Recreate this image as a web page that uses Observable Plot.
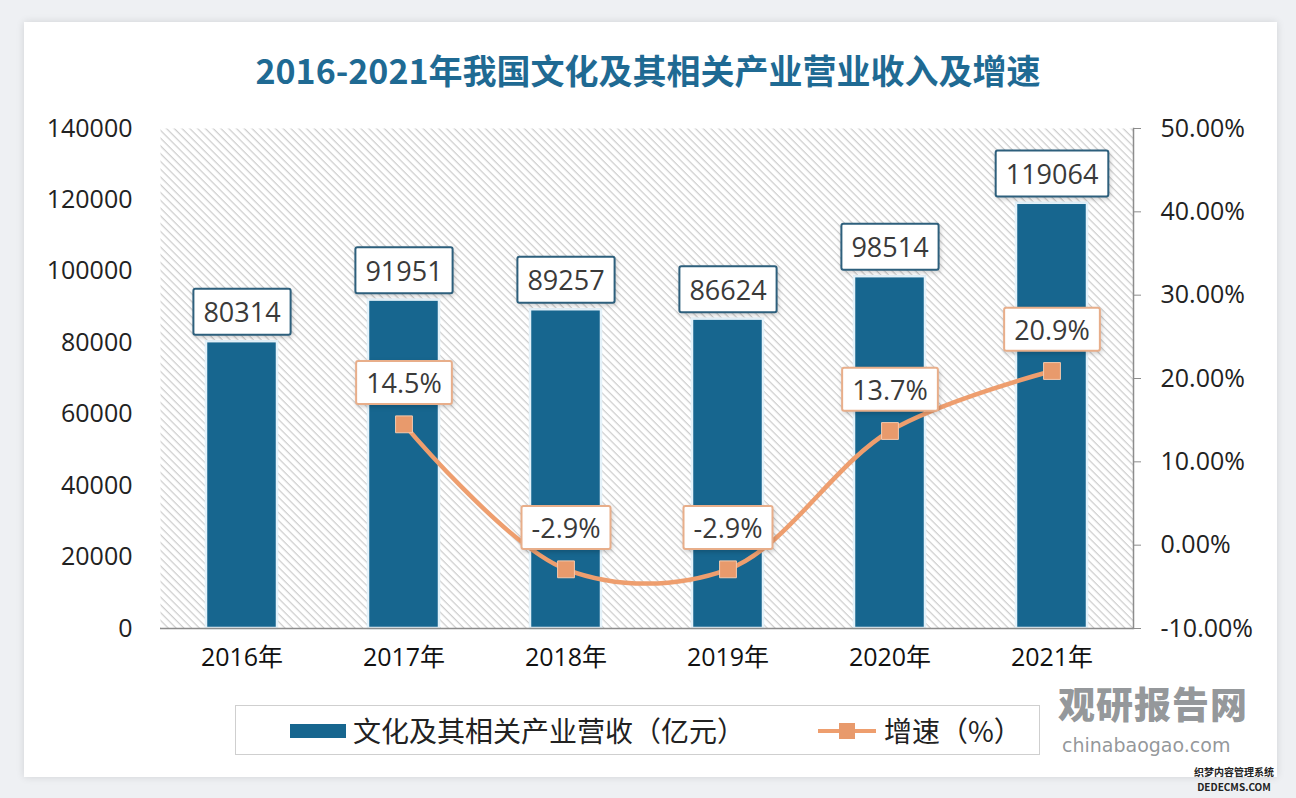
<!DOCTYPE html>
<html><head><meta charset="utf-8">
<script src="https://cdn.jsdelivr.net/npm/d3@7"></script>
<script src="https://cdn.jsdelivr.net/npm/@observablehq/plot@0.6"></script>
<style>
html,body{margin:0;padding:0;background:#eef0f3;width:1296px;height:798px;overflow:hidden;font-family:"Open Sans","Noto Sans CJK SC",sans-serif;}
#card{position:absolute;left:24px;top:22px;width:1253px;height:755px;background:#fff;box-shadow:0 0 8px rgba(0,0,0,0.12);}
#title{position:absolute;left:0;top:45px;width:1296px;text-align:center;font-family:"Noto Sans CJK SC",sans-serif;font-weight:700;font-size:34px;color:#1F6A93;}
#chart{position:absolute;left:0;top:0;}
#legend{position:absolute;left:235px;top:705px;width:805px;height:50px;border:1px solid #cfcfcf;background:#fff;box-sizing:border-box;}
.lg{position:absolute;top:6px;font-family:"Noto Sans CJK SC",sans-serif;font-size:28px;color:#222;line-height:36px;}
#wm1{position:absolute;left:1058px;top:682px;font-family:"Noto Sans CJK SC",sans-serif;font-weight:900;font-size:37px;line-height:42px;color:rgba(120,124,128,0.8);letter-spacing:1px;}
#wm2{position:absolute;left:1062px;top:734px;font-family:"DejaVu Sans",sans-serif;font-size:19px;line-height:22px;color:rgba(120,124,128,0.8);}
.wm3{position:absolute;left:1186px;width:96px;font-family:"Noto Sans CJK SC",sans-serif;font-weight:700;font-size:10px;line-height:12px;color:#222;text-align:center;}
</style></head>
<body>
<div id="card"></div>
<div id="title">2016-2021年我国文化及其相关产业营业收入及增速</div>
<div id="chart"></div>
<div id="legend">
  <svg style="position:absolute;left:0;top:0" width="805" height="50">
    <rect x="54" y="18" width="56" height="14" fill="#17668F"></rect>
    <line x1="582" y1="25" x2="640" y2="25" stroke="#EE9E6E" stroke-width="4"></line>
    <rect x="603" y="17" width="16" height="16" fill="#E89A6C"></rect>
  </svg>
  <div class="lg" style="left:117px">文化及其相关产业营收（亿元）</div>
  <div class="lg" style="left:648px">增速（%）</div>
</div>
<div id="wm1">观研报告网</div>
<div id="wm2">chinabaogao.com</div>
<div class="wm3" style="top:766px">织梦内容管理系统</div>
<div class="wm3" style="top:781px">DEDECMS.COM</div>
<script>
const years = ["2016","2017","2018","2019","2020","2021"];
const revenue = [80314, 91951, 89257, 86624, 98514, 119064];
const growthYears = ["2017","2018","2019","2020","2021"];
const growth = [14.5, -2.9, -2.9, 13.7, 20.9];
const leftTicks = [0,20000,40000,60000,80000,100000,120000,140000];
const rightTicks = [-10,0,10,20,30,40,50];

const yMax = 140000, pMin = -10, pMax = 50;
const toLeft = p => (p - pMin) / (pMax - pMin) * yMax;
const toPct = v => v / yMax * (pMax - pMin) + pMin;

const bars = years.map((y,i)=>({year:y, value:revenue[i]}));
const pts = growthYears.map((y,i)=>({year:y, g:growth[i], v:toLeft(growth[i])}));
const barLabels = new Set(bars.map(d=>String(d.value)));
const ptLabels = new Set(pts.map(d=>d.g.toFixed(1)+"%"));

const font = "Open Sans, Noto Sans CJK SC, sans-serif";
const svg = Plot.plot({
  width:1296, height:700,
  marginTop:128, marginBottom:72, marginLeft:160, marginRight:163,
  style:{background:"transparent", overflow:"visible", fontFamily:font},
  x:{domain:years, paddingInner:0.56, paddingOuter:0.28, label:null},
  y:{domain:[0,yMax], label:null},
  marks:[
    Plot.frame({fill:"url(#hatch)", stroke:null}),
    Plot.barY(bars,{x:"year", y:"value", fill:"#17668F", stroke:"#e4f2fa", strokeWidth:2.5}),
    Plot.ruleY([0],{stroke:"#8c8c8c", strokeWidth:1.5}),
    Plot.frame({anchor:"right", stroke:"#8c8c8c", strokeWidth:1.5}),
    Plot.axisY(leftTicks,{anchor:"left", tickSize:0, tickPadding:28, fontSize:25, fill:"#222", label:null, tickFormat:d=>String(d)}),
    Plot.axisY(rightTicks.map(toLeft),{anchor:"right", tickSize:7, tickPadding:20, fontSize:25, fill:"#222", stroke:"#8c8c8c", label:null, tickFormat:v=>toPct(v).toFixed(2)+"%"}),
    Plot.axisX({tickSize:0, tickPadding:20, fontSize:25, fill:"#111", label:null, tickFormat:d=>d+"年"}),
    Plot.line(pts,{x:"year", y:"v", stroke:"#EE9E6E", strokeWidth:4.5, curve:"catmull-rom"}),
    Plot.dot(pts,{x:"year", y:"v", symbol:"square", r:9.5, fill:"#E89A6C", stroke:"#f4c9ad", strokeWidth:1}),
    Plot.text(bars,{x:"year", y:"value", text:d=>String(d.value), dy:-28, fontSize:27, fill:"#3a3a3a", fontFamily:font}),
    Plot.text(pts,{x:"year", y:"v", text:d=>d.g.toFixed(1)+"%", dy:-40, fontSize:27, fill:"#3a3a3a", fontFamily:font})
  ]
});
document.getElementById("chart").appendChild(svg);

const ns = "http://www.w3.org/2000/svg";
const defs = document.createElementNS(ns,"defs");
defs.innerHTML = '<pattern id="hatch" patternUnits="userSpaceOnUse" width="5.5" height="5.5" patternTransform="rotate(45)"><rect width="5.5" height="5.5" fill="#ffffff"/><line x1="0" y1="0.6" x2="5.5" y2="0.6" stroke="#cdcdcd" stroke-width="1.3"/></pattern>';
svg.insertBefore(defs, svg.firstChild);

function box(t, stroke, h){
  const b = t.getBBox();
  const w = b.width + 20;
  const r = document.createElementNS(ns,"rect");
  r.setAttribute("x", b.x + b.width/2 - w/2);
  r.setAttribute("y", b.y + b.height/2 - h/2);
  r.setAttribute("width", w);
  r.setAttribute("height", h);
  r.setAttribute("rx", 2);
  r.setAttribute("fill", "#ffffff");
  r.setAttribute("stroke", stroke);
  r.setAttribute("stroke-width", 2);
  r.setAttribute("style","filter:drop-shadow(1px 2px 2px rgba(0,0,0,0.18))");
  const tr = t.getAttribute("transform");
  if(tr) r.setAttribute("transform", tr);
  t.parentNode.insertBefore(r, t);
}
for(const t of Array.from(svg.querySelectorAll("text"))){
  const s = t.textContent;
  if(barLabels.has(s)) box(t, "#2D5F7C", 46);
  else if(ptLabels.has(s)) box(t, "#E8AE8A", 43);
}
</script>
</body></html>
